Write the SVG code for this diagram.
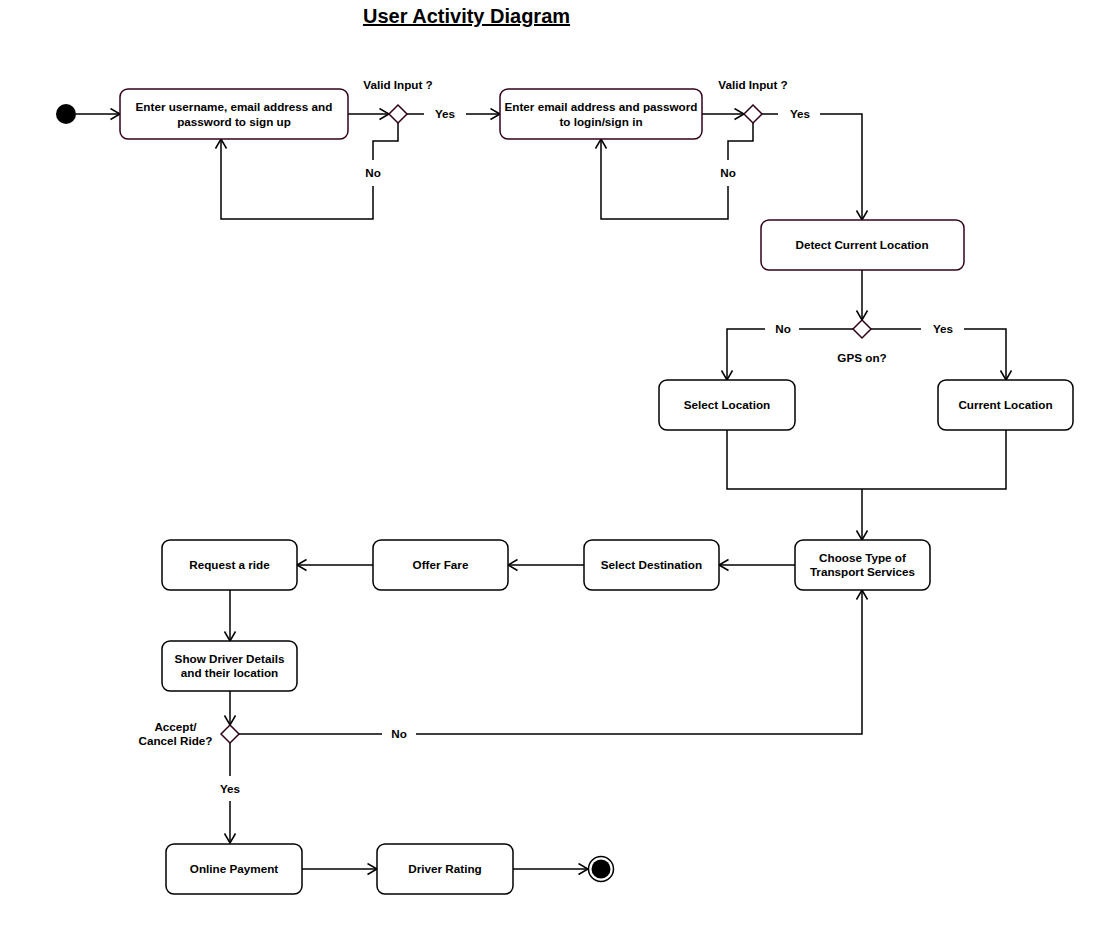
<svg xmlns="http://www.w3.org/2000/svg" width="1101" height="925" viewBox="0 0 1101 925">
<style>
text{font-family:"Liberation Sans",Arial,sans-serif;font-size:11.7px;font-weight:bold;fill:#000;text-anchor:middle}
.title{font-size:20px;text-decoration:underline}
.box{fill:#fff;stroke:#000;stroke-width:1.5}
.mbox{fill:#fff;stroke:#33001A;stroke-width:1.5}
.dia{fill:#fff;stroke:#33001A;stroke-width:1.5}
.c{fill:none;stroke:#000;stroke-width:1.5}
</style>
<defs>
<marker id="arr" markerUnits="userSpaceOnUse" markerWidth="14" markerHeight="14" refX="10.5" refY="6.5" orient="auto">
<path d="M1,1 L10.5,6.5 L1,12" fill="none" stroke="#000" stroke-width="1.5"/>
</marker>
</defs>
<rect width="1101" height="925" fill="#fff"/>
<text class="title" x="466.5" y="23">User Activity Diagram</text>

<g id="connectors">
<path class="c" d="M76,114 H120" marker-end="url(#arr)"/>
<path class="c" d="M348,114 H389" marker-end="url(#arr)"/>
<path class="c" d="M407,114 H424"/>
<path class="c" d="M466,114 H500" marker-end="url(#arr)"/>
<path class="c" d="M398,123 V141 H373 V160"/>
<path class="c" d="M373,186 V219 H221 V139" marker-end="url(#arr)"/>
<path class="c" d="M702,114 H744" marker-end="url(#arr)"/>
<path class="c" d="M761,114 H778"/>
<path class="c" d="M820,114 H862 V220" marker-end="url(#arr)"/>
<path class="c" d="M753,122 V141 H728 V160"/>
<path class="c" d="M728,186 V219 H601 V139" marker-end="url(#arr)"/>
<path class="c" d="M862,270 V320" marker-end="url(#arr)"/>
<path class="c" d="M854,329 H799"/>
<path class="c" d="M765,329 H727 V380" marker-end="url(#arr)"/>
<path class="c" d="M871,329 H921"/>
<path class="c" d="M964,329 H1006 V380" marker-end="url(#arr)"/>
<path class="c" d="M727,430 V489 H1006 V430"/>
<path class="c" d="M862,489 V540" marker-end="url(#arr)"/>
<path class="c" d="M795,565 H719" marker-end="url(#arr)"/>
<path class="c" d="M584,565 H508" marker-end="url(#arr)"/>
<path class="c" d="M373,565 H297" marker-end="url(#arr)"/>
<path class="c" d="M230,590 V641" marker-end="url(#arr)"/>
<path class="c" d="M230,691 V725" marker-end="url(#arr)"/>
<path class="c" d="M238,734 H382"/>
<path class="c" d="M416,734 H862 V590" marker-end="url(#arr)"/>
<path class="c" d="M230,743 V776"/>
<path class="c" d="M230,801 V843" marker-end="url(#arr)"/>
<path class="c" d="M302,869 H377" marker-end="url(#arr)"/>
<path class="c" d="M513,869 H588" marker-end="url(#arr)"/>
<text x="445" y="118">Yes</text>
<text x="373" y="177">No</text>
<text x="800" y="118">Yes</text>
<text x="728" y="177">No</text>
<text x="783" y="333">No</text>
<text x="943" y="333">Yes</text>
<text x="399" y="738">No</text>
<text x="230" y="793">Yes</text>
</g>

<g id="start"><circle cx="66" cy="114" r="10" fill="#000"/></g>

<g id="signup">
<rect class="mbox" x="120" y="89" width="228" height="50" rx="8"/>
<text x="234" y="110.5">Enter username, email address and</text>
<text x="234" y="125.5">password to sign up</text>
</g>

<g id="valid1">
<path class="dia" d="M398,105 L407,114 L398,123 L389,114 Z"/>
<text x="398" y="89">Valid Input ?</text>
</g>

<g id="login">
<rect class="mbox" x="500" y="89" width="202" height="50" rx="8"/>
<text x="601" y="110.5">Enter email address and password</text>
<text x="601" y="125.5">to login/sign in</text>
</g>

<g id="valid2">
<path class="dia" d="M753,105 L762,114 L753,123 L744,114 Z"/>
<text x="753" y="89">Valid Input ?</text>
</g>

<g id="detect">
<rect class="mbox" x="761" y="220" width="203" height="50" rx="8"/>
<text x="862" y="249">Detect Current Location</text>
</g>

<g id="gps">
<path class="dia" d="M862,320 L871,329 L862,338 L853,329 Z"/>
<text x="862" y="362">GPS on?</text>
</g>

<g id="selectLocation">
<rect class="box" x="659" y="380" width="136" height="50" rx="8"/>
<text x="727" y="409">Select Location</text>
</g>

<g id="currentLocation">
<rect class="box" x="938" y="380" width="135" height="50" rx="8"/>
<text x="1005.5" y="409">Current Location</text>
</g>

<g id="chooseType">
<rect class="box" x="795" y="540" width="135" height="50" rx="8"/>
<text x="862.5" y="561.5">Choose Type of</text>
<text x="862.5" y="575.5">Transport Services</text>
</g>

<g id="selectDestination">
<rect class="box" x="584" y="540" width="135" height="50" rx="8"/>
<text x="651.5" y="569">Select Destination</text>
</g>

<g id="offerFare">
<rect class="box" x="373" y="540" width="135" height="50" rx="8"/>
<text x="440.5" y="569">Offer Fare</text>
</g>

<g id="requestRide">
<rect class="box" x="162" y="540" width="135" height="50" rx="8"/>
<text x="229.5" y="569">Request a ride</text>
</g>

<g id="driverDetails">
<rect class="box" x="162" y="641" width="135" height="50" rx="8"/>
<text x="229.5" y="663">Show Driver Details</text>
<text x="229.5" y="677">and their location</text>
</g>

<g id="acceptCancel">
<path class="dia" d="M230,725 L239,734 L230,743 L221,734 Z"/>
<text x="175.5" y="731">Accept/</text>
<text x="175.5" y="745">Cancel Ride?</text>
</g>

<g id="payment">
<rect class="box" x="166" y="844" width="136" height="50" rx="8"/>
<text x="234" y="873">Online Payment</text>
</g>

<g id="rating">
<rect class="box" x="377" y="844" width="136" height="50" rx="8"/>
<text x="445" y="873">Driver Rating</text>
</g>

<g id="end">
<circle cx="601" cy="869" r="12.5" fill="#fff" stroke="#000" stroke-width="1.5"/>
<circle cx="601" cy="869" r="9.5" fill="#000"/>
</g>
</svg>
